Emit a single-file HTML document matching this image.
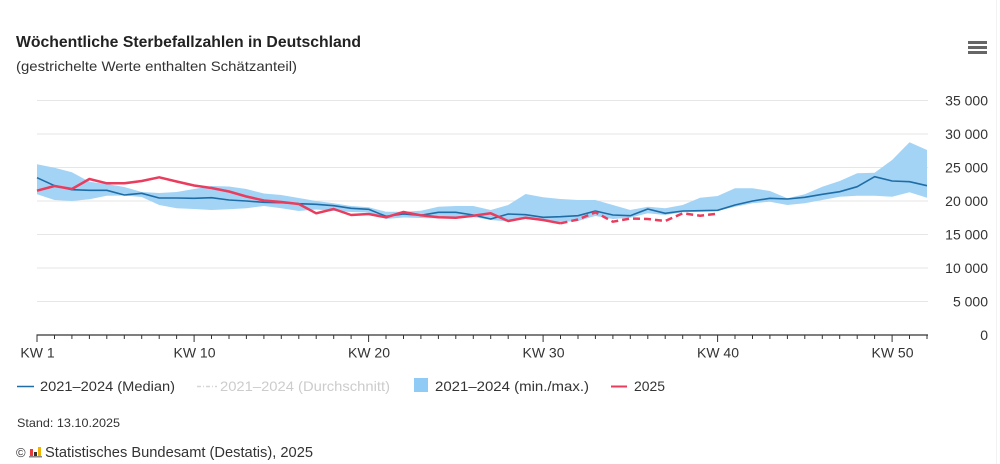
<!DOCTYPE html>
<html><head><meta charset="utf-8"><style>
html,body{margin:0;padding:0;background:#fff;}
svg{display:block;font-family:"Liberation Sans",sans-serif;}
</style></head><body>
<svg width="1000" height="464" viewBox="0 0 1000 464" xmlns="http://www.w3.org/2000/svg">
<rect x="0" y="0" width="1000" height="464" fill="#fff"/>
<line x1="996.5" y1="0" x2="996.5" y2="464" stroke="#f2f2f2" stroke-width="1"/>
<text x="16" y="47" font-size="16" font-weight="bold" fill="#222" textLength="345" lengthAdjust="spacingAndGlyphs">Wöchentliche Sterbefallzahlen in Deutschland</text>
<text x="16" y="71" font-size="14" fill="#333" textLength="281" lengthAdjust="spacingAndGlyphs">(gestrichelte Werte enthalten Schätzanteil)</text>
<g fill="#666"><rect x="968" y="41" width="19" height="3"/><rect x="968" y="46" width="19" height="3"/><rect x="968" y="51" width="19" height="3"/></g>
<g stroke="#e6e6e6" stroke-width="1">
<line x1="37" y1="100.5" x2="928" y2="100.5"/>
<line x1="37" y1="134" x2="928" y2="134"/>
<line x1="37" y1="167.5" x2="928" y2="167.5"/>
<line x1="37" y1="201" x2="928" y2="201"/>
<line x1="37" y1="234.5" x2="928" y2="234.5"/>
<line x1="37" y1="268" x2="928" y2="268"/>
<line x1="37" y1="301.5" x2="928" y2="301.5"/>
</g>
<g font-size="14" fill="#333" text-anchor="end">
<text x="988" y="105.5">35 000</text>
<text x="988" y="139">30 000</text>
<text x="988" y="172.5">25 000</text>
<text x="988" y="206">20 000</text>
<text x="988" y="239.5">15 000</text>
<text x="988" y="273">10 000</text>
<text x="988" y="306.5">5 000</text>
<text x="988" y="340">0</text>
</g>
<polygon fill="#a3d4f6" points="37,164.3 54.5,167.7 71.9,172.3 89.4,181.7 106.8,184 124.3,187 141.7,192 159.2,193 176.6,192 194.1,189 211.5,186 229,186.5 246.4,189 263.9,193.5 281.3,195 298.8,198 316.2,201 333.7,203.3 351.1,206 368.6,207.3 386,211.7 403.5,211.7 420.9,210.7 438.4,206.7 455.8,206 473.3,206 490.7,210 508.2,205 525.6,194 543.1,197.3 560.5,199 578,200 595.4,200 612.9,205 630.3,210 647.8,206.7 665.2,208.3 682.7,205 700.1,197.7 717.6,196 735,188.3 752.5,188.3 769.9,191 787.4,198.3 804.8,194.3 822.3,186.7 839.7,181 857.2,173.3 874.6,172.7 892.1,160 909.5,142.3 927,150 927,197.7 909.5,192.3 892.1,196.7 874.6,195.7 857.2,195.7 839.7,196.7 822.3,200 804.8,203.3 787.4,205 769.9,201.7 752.5,203.3 735,206.7 717.6,211 700.1,211.7 682.7,212.3 665.2,215 647.8,213.3 630.3,217.7 612.9,219 595.4,216 578,221 560.5,222 543.1,221 525.6,219 508.2,221.5 490.7,220 473.3,217 455.8,218.5 438.4,218.5 420.9,218 403.5,217.5 386,219 368.6,212.5 351.1,212 333.7,211 316.2,209.5 298.8,211 281.3,208.3 263.9,206 246.4,208.3 229,209.3 211.5,210 194.1,209 176.6,208.3 159.2,205 141.7,197 124.3,195.5 106.8,195.7 89.4,199.3 71.9,201 54.5,200 37,194.3"/>
<polyline fill="none" stroke="#1f6da6" stroke-width="1.6" stroke-linejoin="round" points="37,177.7 54.5,185.7 71.9,189.7 89.4,190.3 106.8,190.3 124.3,195 141.7,193.3 159.2,198 176.6,198 194.1,198.3 211.5,197.7 229,200 246.4,201 263.9,202.3 281.3,202.7 298.8,203.7 316.2,204.3 333.7,205.7 351.1,208.3 368.6,209.3 386,216.3 403.5,214 420.9,215.3 438.4,212.3 455.8,212.3 473.3,215 490.7,219 508.2,214 525.6,214.7 543.1,217.3 560.5,216.7 578,215.7 595.4,211 612.9,215 630.3,215.7 647.8,209 665.2,213.3 682.7,211 700.1,210.7 717.6,210.3 735,205 752.5,201 769.9,198.3 787.4,199 804.8,197.3 822.3,194.3 839.7,191.7 857.2,186.7 874.6,176.7 892.1,181 909.5,181.7 927,185.7"/>
<polyline fill="none" stroke="#ea3d5d" stroke-width="2.5" stroke-linejoin="round" points="37,190.7 54.5,186 71.9,189 89.4,179 106.8,183.3 124.3,183.3 141.7,181 159.2,177.3 176.6,181.5 194.1,185.5 211.5,188 229,191.5 246.4,196.5 263.9,200.5 281.3,202 298.8,204 316.2,213.3 333.7,209 351.1,215 368.6,214 386,217.3 403.5,212 420.9,215.3 438.4,217.3 455.8,217.7 473.3,215.7 490.7,213.3 508.2,221 525.6,217.7 543.1,220 560.5,223.3"/>
<polyline fill="none" stroke="#ea3d5d" stroke-width="2.5" stroke-dasharray="7,4" stroke-linejoin="round" points="560.5,223.3 578,219.5 595.4,212.3 612.9,221.7 630.3,218.5 647.8,219 665.2,221 682.7,213.3 700.1,215.7 717.6,213.7"/>
<line x1="36.5" y1="335" x2="928" y2="335" stroke="#333" stroke-width="1.2"/>
<g stroke="#333" stroke-width="1">
<line x1="37" y1="335" x2="37" y2="342"/><line x1="54.5" y1="335" x2="54.5" y2="339"/><line x1="71.9" y1="335" x2="71.9" y2="339"/><line x1="89.4" y1="335" x2="89.4" y2="339"/><line x1="106.8" y1="335" x2="106.8" y2="339"/><line x1="124.3" y1="335" x2="124.3" y2="339"/><line x1="141.7" y1="335" x2="141.7" y2="339"/><line x1="159.2" y1="335" x2="159.2" y2="339"/><line x1="176.6" y1="335" x2="176.6" y2="339"/><line x1="194.1" y1="335" x2="194.1" y2="342"/><line x1="211.5" y1="335" x2="211.5" y2="339"/><line x1="229" y1="335" x2="229" y2="339"/><line x1="246.4" y1="335" x2="246.4" y2="339"/><line x1="263.9" y1="335" x2="263.9" y2="339"/><line x1="281.3" y1="335" x2="281.3" y2="339"/><line x1="298.8" y1="335" x2="298.8" y2="339"/><line x1="316.2" y1="335" x2="316.2" y2="339"/><line x1="333.7" y1="335" x2="333.7" y2="339"/><line x1="351.1" y1="335" x2="351.1" y2="339"/><line x1="368.6" y1="335" x2="368.6" y2="342"/><line x1="386" y1="335" x2="386" y2="339"/><line x1="403.5" y1="335" x2="403.5" y2="339"/><line x1="420.9" y1="335" x2="420.9" y2="339"/><line x1="438.4" y1="335" x2="438.4" y2="339"/><line x1="455.8" y1="335" x2="455.8" y2="339"/><line x1="473.3" y1="335" x2="473.3" y2="339"/><line x1="490.7" y1="335" x2="490.7" y2="339"/><line x1="508.2" y1="335" x2="508.2" y2="339"/><line x1="525.6" y1="335" x2="525.6" y2="339"/><line x1="543.1" y1="335" x2="543.1" y2="342"/><line x1="560.5" y1="335" x2="560.5" y2="339"/><line x1="578" y1="335" x2="578" y2="339"/><line x1="595.4" y1="335" x2="595.4" y2="339"/><line x1="612.9" y1="335" x2="612.9" y2="339"/><line x1="630.3" y1="335" x2="630.3" y2="339"/><line x1="647.8" y1="335" x2="647.8" y2="339"/><line x1="665.2" y1="335" x2="665.2" y2="339"/><line x1="682.7" y1="335" x2="682.7" y2="339"/><line x1="700.1" y1="335" x2="700.1" y2="339"/><line x1="717.6" y1="335" x2="717.6" y2="342"/><line x1="735" y1="335" x2="735" y2="339"/><line x1="752.5" y1="335" x2="752.5" y2="339"/><line x1="769.9" y1="335" x2="769.9" y2="339"/><line x1="787.4" y1="335" x2="787.4" y2="339"/><line x1="804.8" y1="335" x2="804.8" y2="339"/><line x1="822.3" y1="335" x2="822.3" y2="339"/><line x1="839.7" y1="335" x2="839.7" y2="339"/><line x1="857.2" y1="335" x2="857.2" y2="339"/><line x1="874.6" y1="335" x2="874.6" y2="339"/><line x1="892.1" y1="335" x2="892.1" y2="342"/><line x1="909.5" y1="335" x2="909.5" y2="339"/><line x1="927" y1="335" x2="927" y2="339"/>
</g>
<g font-size="14" fill="#333" text-anchor="middle">
<text x="37.5" y="357.5">KW 1</text>
<text x="194.5" y="357.5">KW 10</text>
<text x="369" y="357.5">KW 20</text>
<text x="543.5" y="357.5">KW 30</text>
<text x="718" y="357.5">KW 40</text>
<text x="892.5" y="357.5">KW 50</text>
</g>
<line x1="17" y1="386.5" x2="34" y2="386.5" stroke="#1f6da6" stroke-width="1.6"/>
<text x="40" y="391" font-size="14" fill="#333" textLength="135" lengthAdjust="spacingAndGlyphs">2021–2024 (Median)</text>
<line x1="197" y1="386.5" x2="217" y2="386.5" stroke="#d6d6d6" stroke-width="1.5" stroke-dasharray="4,2,1,2"/>
<text x="220" y="391" font-size="14" fill="#cccccc" textLength="170" lengthAdjust="spacingAndGlyphs">2021–2024 (Durchschnitt)</text>
<rect x="414" y="378" width="14" height="14" fill="#8fcbf5"/>
<text x="435" y="391" font-size="14" fill="#333" textLength="154" lengthAdjust="spacingAndGlyphs">2021–2024 (min./max.)</text>
<line x1="611" y1="386.5" x2="627" y2="386.5" stroke="#ea3d5d" stroke-width="2"/>
<text x="634" y="391" font-size="14" fill="#333" textLength="31" lengthAdjust="spacingAndGlyphs">2025</text>
<text x="17" y="427" font-size="12" fill="#333" textLength="103" lengthAdjust="spacingAndGlyphs">Stand: 13.10.2025</text>
<text x="16" y="457" font-size="13" fill="#333">©</text>
<g>
<rect x="30" y="449" width="3" height="8" fill="#e63c3c"/>
<rect x="34" y="452" width="3" height="5" fill="#333"/>
<rect x="38" y="447" width="3" height="10" fill="#f0b400"/>
<rect x="29" y="456" width="13" height="1.5" fill="#888"/>
</g>
<text x="45" y="457" font-size="14.5" fill="#333" textLength="268" lengthAdjust="spacingAndGlyphs">Statistisches Bundesamt (Destatis), 2025</text>
</svg>
</body></html>
